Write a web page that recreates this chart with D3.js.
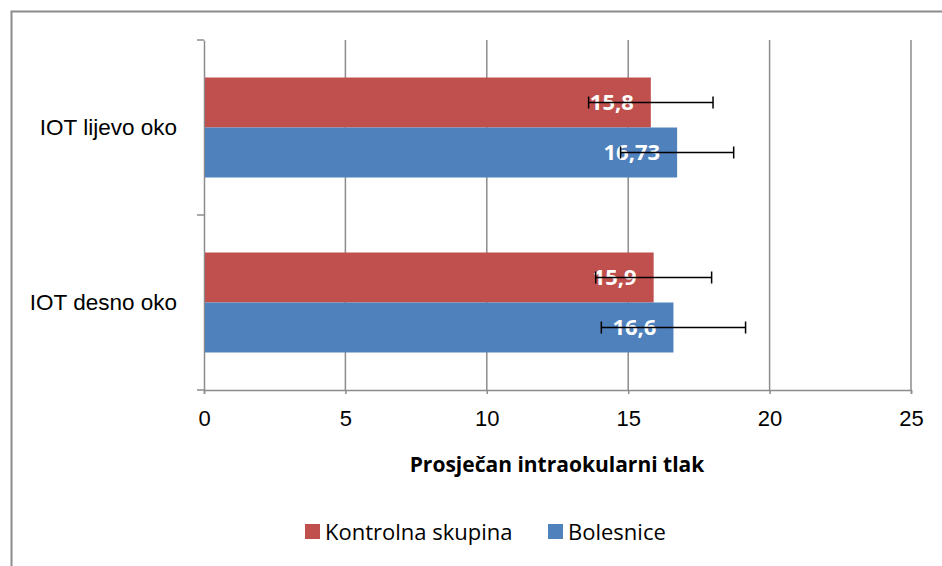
<!DOCTYPE html>
<html lang="hr">
<head>
<meta charset="UTF-8">
<title>IOT</title>
<script src="https://cdn.jsdelivr.net/npm/d3@7"></script>
<style>
  body { margin: 0; background: #fff; }
  svg { font-family: "Open Sans", Lato, sans-serif; }
</style>
</head>
<body>
<div id="chart"></div>
<script>
// podaci
const categories = ["IOT lijevo oko", "IOT desno oko"];
const seriesNames = ["Kontrolna skupina", "Bolesnice"];
const seriesColors = ["#c0504d", "#4f81bd"];
const kontrolna = [15.8, 15.9];
const bolesnice = [16.73, 16.6];
const kontrolnaSD = [2.2, 2.05];
const bolesniceSD = [2.0, 2.55];
const xTicks = [0, 5, 10, 15, 20, 25];
const labels = [["15,8", "15,9"], ["16,73", "16,6"]];

const W = 942, H = 566;
const margin = { top: 40, left: 204, right: 31, bottom: 176 };
const width = W - margin.left - margin.right;
const height = H - margin.top - margin.bottom;

const svg = d3.select("#chart").append("svg")
  .attr("width", W).attr("height", H);

// okvir
svg.append("path")
  .attr("d", `M11.5,${H} V11.5 H${W}`)
  .attr("fill", "none").attr("stroke", "#8c8c8c").attr("stroke-width", 2);

const g = svg.append("g").attr("transform", `translate(${margin.left},${margin.top})`);

const x = d3.scaleLinear().domain([0, 25]).range([0, width]);
const y = d3.scaleBand().domain(categories).range([0, height]);
// svaki stupac ~ 50px, razmak 37.5px s obje strane
const inner = d3.scaleBand().domain(seriesNames).range([37.5, y.bandwidth() - 37.5]);

// mreža
g.selectAll(".grid").data(xTicks.slice(1)).enter().append("line")
  .attr("x1", d => x(d)).attr("x2", d => x(d))
  .attr("y1", 0).attr("y2", height)
  .attr("stroke", "#8c8c8c").attr("stroke-width", 1.5);

// x os
const xAxis = g.append("g").attr("transform", `translate(0,${height})`)
  .call(d3.axisBottom(x).tickValues(xTicks).tickSize(4).tickPadding(16));
xAxis.select(".domain").attr("stroke", "#8c8c8c").attr("stroke-width", 1.5);
xAxis.selectAll(".tick line").attr("stroke", "#8c8c8c").attr("stroke-width", 1.5);
xAxis.selectAll("text").attr("font-size", 22).attr("fill", "#000");

// y os
const yAxis = g.append("g")
  .call(d3.axisLeft(y).tickSize(0).tickPadding(27));
yAxis.select(".domain").attr("stroke", "#8c8c8c").attr("stroke-width", 1.5);
yAxis.selectAll("text").attr("font-size", 22.5).attr("fill", "#000");
g.selectAll(".ytick").data([0, height / 2, height]).enter().append("line")
  .attr("x1", -7).attr("x2", 0).attr("y1", d => d).attr("y2", d => d)
  .attr("stroke", "#8c8c8c").attr("stroke-width", 1.5);

// stupci
const series = [
  { name: seriesNames[0], values: kontrolna, sd: kontrolnaSD, color: seriesColors[0], labels: labels[0] },
  { name: seriesNames[1], values: bolesnice, sd: bolesniceSD, color: seriesColors[1], labels: labels[1] }
];

series.forEach(s => {
  const rows = categories.map((c, i) => ({ c, v: s.values[i], sd: s.sd[i], lab: s.labels[i] }));
  g.selectAll(null).data(rows).enter().append("rect")
    .attr("x", x(0) + 1)
    .attr("y", d => y(d.c) + inner(s.name))
    .attr("width", d => x(d.v) - x(0) - 1)
    .attr("height", inner.bandwidth())
    .attr("fill", s.color);
});

series.forEach(s => {
  const rows = categories.map((c, i) => ({ c, v: s.values[i], sd: s.sd[i], lab: s.labels[i] }));
  const cy = d => y(d.c) + inner(s.name) + inner.bandwidth() / 2;
  g.selectAll(null).data(rows).enter().append("text")
    .attr("x", d => x(d.v) - 17)
    .attr("y", cy)
    .attr("dy", "0.36em")
    .attr("text-anchor", "end")
    .attr("font-size", 22).attr("font-weight", "bold")
    .attr("fill", "#fff")
    .text(d => d.lab);
  const eb = g.selectAll(null).data(rows).enter().append("g")
    .attr("stroke", "#000").attr("stroke-width", 1.5);
  eb.append("line")
    .attr("x1", d => x(d.v - d.sd)).attr("x2", d => x(d.v + d.sd))
    .attr("y1", cy).attr("y2", cy);
  eb.append("line")
    .attr("x1", d => x(d.v - d.sd)).attr("x2", d => x(d.v - d.sd))
    .attr("y1", d => cy(d) - 6).attr("y2", d => cy(d) + 6);
  eb.append("line")
    .attr("x1", d => x(d.v + d.sd)).attr("x2", d => x(d.v + d.sd))
    .attr("y1", d => cy(d) - 6).attr("y2", d => cy(d) + 6);
});

// naslov osi
svg.append("text")
  .attr("x", 557).attr("y", 472)
  .attr("text-anchor", "middle")
  .attr("font-size", 21).attr("font-weight", "bold")
  .text("Prosječan intraokularni tlak");

// legenda
const legend = svg.append("g").attr("transform", "translate(305,524)");
const legX = [0, 243];
seriesNames.forEach((n, i) => {
  legend.append("rect").attr("x", legX[i]).attr("y", 0).attr("width", 15).attr("height", 15)
    .attr("fill", seriesColors[i]);
  legend.append("text").attr("x", legX[i] + 20).attr("y", 8).attr("dy", "0.35em")
    .attr("font-size", 22).text(n);
});
</script>
</body>
</html>
